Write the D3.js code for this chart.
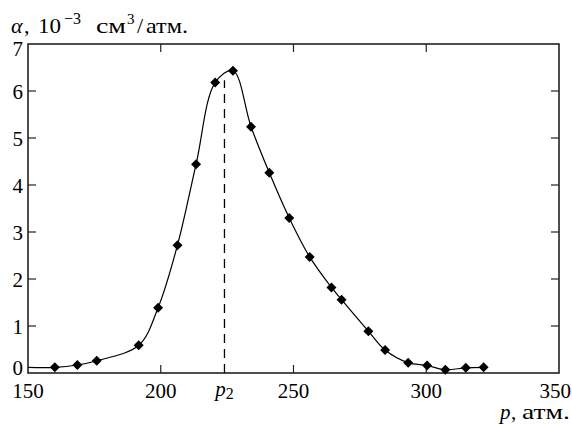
<!DOCTYPE html>
<html>
<head>
<meta charset="utf-8">
<script src="https://cdn.jsdelivr.net/npm/d3@7/dist/d3.min.js"></script>
<style>
  html, body { margin: 0; padding: 0; background: #fff; }
  svg text { font-family: "Liberation Serif", "DejaVu Serif", serif; fill: #000; }
</style>
</head>
<body>
<svg id="chart" width="572" height="424"></svg>
<script>
// Measured points: pressure p (атм.) and α (10^-3 см^3/атм.)
const pressure = [160.1, 168.6, 175.9, 191.7, 199.0, 206.3, 213.3, 220.5, 227.2, 234.0,
                  240.9, 248.4, 256.1, 264.3, 268.1, 278.2, 284.5, 293.2, 300.3, 307.2,
                  314.9, 321.6];
const alpha    = [0.12, 0.17, 0.26, 0.59, 1.39, 2.72, 4.44, 6.18, 6.43, 5.24,
                  4.26, 3.30, 2.47, 1.82, 1.56, 0.89, 0.49, 0.22, 0.16, 0.07,
                  0.11, 0.12];
// The fitted curve starts at the left edge of the plot
const curveStartP = 150;
const curveStartA = 0.12;
// Peak position p2 and height of its marker line
const p2 = 224;
const p2LineTop = 6.23;

const xTicks = [150, 200, 250, 300, 350];
const yTicks = [0, 1, 2, 3, 4, 5, 6, 7];

const margin = { left: 28, right: 13, top: 44, bottom: 51 };
const W = 572, H = 424;
const svg = d3.select("#chart");

const x = d3.scaleLinear().domain([150, 350]).range([margin.left, W - margin.right]);
const y = d3.scaleLinear().domain([0, 7]).range([H - margin.bottom, margin.top]);

const x0 = x.range()[0], x1 = x.range()[1];
const y0 = y.range()[0], y1 = y.range()[1];
const tickLen = 8;

// Inward ticks on all four sides
const g = svg.append("g").attr("stroke", "#222").attr("stroke-width", 1.2);
const innerX = xTicks.filter(v => v > 150 && v < 350);
const innerY = yTicks.filter(v => v > 0 && v < 7);
innerX.forEach(v => {
  g.append("line").attr("x1", x(v)).attr("x2", x(v)).attr("y1", y0).attr("y2", y0 - tickLen);
  g.append("line").attr("x1", x(v)).attr("x2", x(v)).attr("y1", y1).attr("y2", y1 + tickLen);
});
innerY.forEach(v => {
  g.append("line").attr("x1", x0).attr("x2", x0 + tickLen).attr("y1", y(v)).attr("y2", y(v));
  g.append("line").attr("x1", x1).attr("x2", x1 - tickLen).attr("y1", y(v)).attr("y2", y(v));
});

// Frame
svg.append("rect")
  .attr("x", x0).attr("y", y1)
  .attr("width", x1 - x0).attr("height", y0 - y1)
  .attr("fill", "none").attr("stroke", "#222").attr("stroke-width", 1.6);

// Dashed line at p2
svg.append("line")
  .attr("x1", x(p2)).attr("x2", x(p2))
  .attr("y1", y(0)).attr("y2", y(p2LineTop))
  .attr("stroke", "#000").attr("stroke-width", 1.3)
  .attr("stroke-dasharray", "9,6");

// Smooth curve through the points
const curveData = [[curveStartP, curveStartA]].concat(pressure.map((p, i) => [p, alpha[i]]));
const line = d3.line()
  .x(d => x(d[0])).y(d => y(d[1]))
  .curve(d3.curveCatmullRom.alpha(0.5));
svg.append("path")
  .datum(curveData)
  .attr("d", line)
  .attr("fill", "none").attr("stroke", "#000").attr("stroke-width", 1.2);

// Diamond markers
const diamond = d3.symbol().type(d3.symbolSquare).size(50);
svg.append("g").selectAll("path")
  .data(pressure.map((p, i) => [p, alpha[i]]))
  .join("path")
  .attr("d", diamond)
  .attr("transform", d => `translate(${x(d[0])},${y(d[1])}) rotate(45)`)
  .attr("fill", "#000");

// X tick labels
const fs = 21;
xTicks.forEach(v => {
  const last = v === 350;
  svg.append("text")
    .attr("x", last ? W - 1 : x(v)).attr("y", y0 + 25)
    .attr("text-anchor", last ? "end" : "middle")
    .attr("font-size", fs)
    .text(v);
});
// p2 label
const p2Label = svg.append("text")
  .attr("x", x(p2)).attr("y", y0 + 23)
  .attr("text-anchor", "middle")
  .attr("font-size", fs);
p2Label.append("tspan").attr("font-style", "italic").text("p");
p2Label.append("tspan").attr("font-size", 16).attr("dy", 3).text("2");

// Y tick labels
yTicks.forEach(v => {
  let dy = 0;
  if (v === 7) dy = 4;
  if (v === 0) dy = -6;
  svg.append("text")
    .attr("x", x0 - 5).attr("y", y(v) + dy + 8)
    .attr("text-anchor", "end")
    .attr("font-size", fs)
    .text(v);
});

// Axis titles
const yt = svg.append("text").attr("y", 33).attr("font-size", 22);
yt.append("tspan").attr("x", 11).attr("font-style", "italic").text("α");
yt.append("tspan").attr("x", 24).text(",");
yt.append("tspan").attr("x", 38)
  .attr("textLength", 23).attr("lengthAdjust", "spacingAndGlyphs").text("10");
yt.append("tspan").attr("x", 64).attr("font-size", 16).attr("dy", -9).text("−3");
yt.append("tspan").attr("x", 96).attr("dy", 9)
  .attr("textLength", 30).attr("lengthAdjust", "spacingAndGlyphs").text("см");
yt.append("tspan").attr("x", 127).attr("font-size", 15).attr("dy", -9).text("3");
yt.append("tspan").attr("x", 137).attr("dy", 9).text("/");
yt.append("tspan").attr("x", 146)
  .attr("textLength", 42).attr("lengthAdjust", "spacingAndGlyphs").text("атм.");

const xt = svg.append("text").attr("y", 419).attr("font-size", 21);
xt.append("tspan").attr("x", 500).attr("font-style", "italic").text("p");
xt.append("tspan").attr("x", 511).text(",");
xt.append("tspan").attr("x", 522)
  .attr("textLength", 48).attr("lengthAdjust", "spacingAndGlyphs").text("атм.");
</script>
</body>
</html>
